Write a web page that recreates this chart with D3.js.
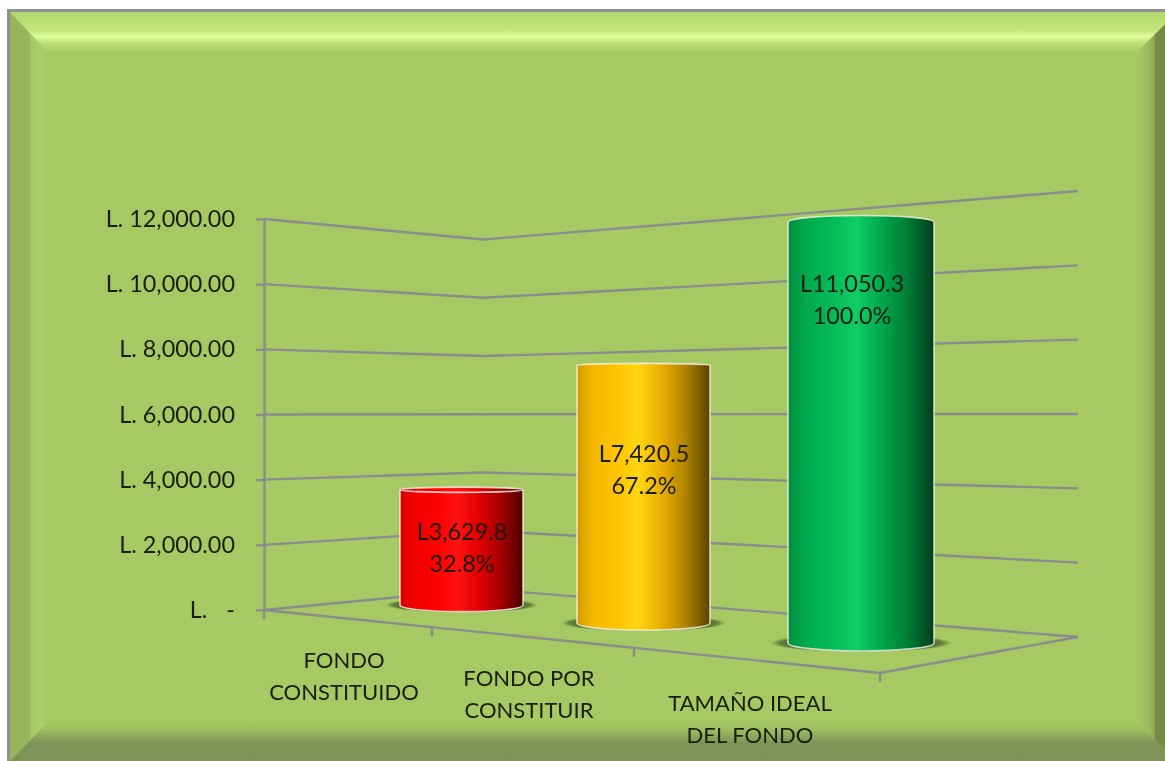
<!DOCTYPE html>
<html>
<head>
<meta charset="utf-8">
<script src="https://cdn.jsdelivr.net/npm/d3@7"></script>
<style>
  body { margin: 0; background: #fff; }
  svg { filter: blur(0.4px); }
  text { font-family: Lato, "Open Sans", sans-serif; fill: #1c1c14; }
</style>
</head>
<body>
<div id="chart"></div>
<script>
(function(){
  // data
  var categories = [["FONDO", "CONSTITUIDO"], ["FONDO POR", "CONSTITUIR"], ["TAMAÑO IDEAL", "DEL FONDO"]];
  var values = [3629.8, 7420.5, 11050.3];
  var valueLabels = ["L3,629.8", "L7,420.5", "L11,050.3"];
  var percentLabels = ["32.8%", "67.2%", "100.0%"];
  var yTicks = [0, 2000, 4000, 6000, 8000, 10000, 12000];
  var yTickLabels = ["L. -", "L. 2,000.00", "L. 4,000.00", "L. 6,000.00", "L. 8,000.00", "L. 10,000.00", "L. 12,000.00"];

  var width = 1165,
    height = 761;

  var svg = d3.select("#chart")
    .append("svg")
    .attr("width", width)
    .attr("height", height)
    .style("display", "block");

  var defs = svg.append("defs");

  function gradient(id, x1, y1, x2, y2, stops) {
    var g = defs.append("linearGradient")
      .attr("id", id)
      .attr("gradientUnits", "userSpaceOnUse")
      .attr("x1", x1).attr("y1", y1).attr("x2", x2).attr("y2", y2);
    stops.forEach(function(s){
      g.append("stop").attr("offset", s[0]).attr("stop-color", s[1]);
    });
  }

  // frame + bevels
  var L = 10, T = 12, R = 1165, B = 761;
  var iL = 48, iT = 52, iR = 1137, iB = 722;

  svg.append("rect").attr("x", 7).attr("y", 9).attr("width", width - 7).attr("height", height - 9).attr("fill", "#8f8f8f");
  svg.append("rect").attr("x", L).attr("y", T).attr("width", R - L).attr("height", B - T).attr("fill", "#a6c963");

  gradient("bevel-top", 0, T, 0, iT, [[0, "#b3d76e"], [0.45, "#c3e57c"], [0.62, "#dcfe96"], [0.8, "#bcdd76"], [1, "#a8cb64"]]);
  gradient("bevel-left", L, 0, iL, 0, [[0, "#96b45a"], [0.5, "#98b65b"], [0.56, "#a6cb66"], [0.8, "#accf69"], [1, "#a6c963"]]);
  gradient("bevel-bottom", 0, iB, 0, B, [[0, "#a6c963"], [0.2, "#9dbd5f"], [0.4, "#8ba25a"], [0.55, "#7e9357"], [1, "#7d9256"]]);
  gradient("bevel-right", iR, 0, R, 0, [[0, "#a6c963"], [0.45, "#9ab95c"], [0.62, "#8ba551"], [0.66, "#748a45"], [1, "#748a45"]]);

  var bevels = [
    ["bevel-left", [[L, T], [iL, iT], [iL, iB], [L, B]]],
    ["bevel-right", [[R, 24], [iR, iT], [iR, iB], [R, 750]]],
    ["bevel-top", [[L, T], [R, T], [R, 24], [iR, iT], [iL, iT]]],
    ["bevel-bottom", [[L, B], [iL, iB], [iR, iB], [R, 750], [R, B]]]
  ];
  svg.selectAll(".bevel")
    .data(bevels)
    .enter().append("polygon")
    .attr("class", "bevel")
    .attr("points", function(d){ return d[1].join(" "); })
    .attr("fill", function(d){ return "url(#" + d[0] + ")"; });

  // 3d box: one y scale per wall edge, all meet at the 6000 horizon
  var yLeft = d3.scaleLinear().domain([0, 12000]).range([610, 219]);
  var yCorner = d3.scaleLinear().domain([0, 12000]).range([589, 239.5]);
  var yRight = d3.scaleLinear().domain([0, 12000]).range([637, 191]);
  var xLeft = 264, xCorner = 483, xRight = 1078;
  var horizon = yLeft(6000);

  var gridColor = "#8c8b8e";
  var gridWidth = 2.4;
  var line = d3.line();

  svg.selectAll(".grid")
    .data(yTicks)
    .enter().append("path")
    .attr("class", "grid")
    .attr("fill", "none")
    .attr("stroke", gridColor)
    .attr("stroke-width", gridWidth)
    .attr("d", function(d){
      return line([[xLeft, yLeft(d)], [xCorner, yCorner(d)], [xRight, yRight(d)]]);
    });

  // floor front edge
  var xFront = 880, yFront = 673;
  var frontEdge = d3.scaleLinear().domain([xLeft, xFront]).range([yLeft(0), yFront]);
  svg.append("path")
    .attr("fill", "none")
    .attr("stroke", gridColor)
    .attr("stroke-width", gridWidth)
    .attr("d", line([[xLeft, yLeft(0)], [xFront, yFront], [xRight, yRight(0)]]));

  svg.selectAll(".xtick")
    .data([xLeft, 432, 634, xFront])
    .enter().append("line")
    .attr("class", "xtick")
    .attr("x1", function(d){ return d; })
    .attr("x2", function(d){ return d; })
    .attr("y1", function(d){ return frontEdge(d); })
    .attr("y2", function(d){ return frontEdge(d) + 9; })
    .attr("stroke", gridColor)
    .attr("stroke-width", gridWidth);

  // y axis
  var yAxis = d3.axisLeft(yLeft)
    .tickValues(yTicks)
    .tickSize(8)
    .tickSizeOuter(0)
    .tickPadding(21)
    .tickFormat(function(d, i){ return yTickLabels[i]; });

  var axisG = svg.append("g")
    .attr("transform", "translate(" + xLeft + ",0)")
    .call(yAxis);
  axisG.selectAll("path, line").attr("stroke", gridColor).attr("stroke-width", gridWidth);
  axisG.selectAll("text")
    .style("font-family", "Lato")
    .style("font-size", "23.4px")
    .style("word-spacing", function(d){ return d === 0 ? "13px" : null; })
    .attr("fill", "#1c1c14");

  // cylinders
  var centers = d3.scaleOrdinal().domain(d3.range(3)).range([461.5, 643.5, 861]);
  var radii = d3.scaleOrdinal().domain(d3.range(3)).range([61.5, 66.5, 73]);
  var bases = d3.scaleOrdinal().domain(d3.range(3)).range([605, 623, 643]);
  var capRatio = 0.035;

  var fills = [
    [[0, "#d80000"], [0.12, "#f20000"], [0.3, "#ff0000"], [0.47, "#ff1212"], [0.64, "#e00000"], [0.82, "#a60000"], [1, "#4c0000"]],
    [[0, "#d29c00"], [0.12, "#f5b800"], [0.3, "#ffc400"], [0.46, "#ffd612"], [0.64, "#e8ae00"], [0.82, "#ad8200"], [1, "#5a4200"]],
    [[0, "#008f3f"], [0.14, "#00ac4e"], [0.32, "#04bc59"], [0.47, "#12cd66"], [0.64, "#00a84c"], [0.82, "#007c36"], [1, "#003e1b"]]
  ];

  values.forEach(function(v, i){
    var cx = centers(i), rx = radii(i), yBase = bases(i);
    var yBar = d3.scaleLinear().domain([0, 6000]).range([yBase, horizon]);
    var yTop = yBar(v);
    var ryTop = Math.abs(yTop - horizon) * capRatio;
    var ryBase = (yBase - horizon) * capRatio;

    gradient("cyl-" + i, cx - rx, 0, cx + rx, 0, fills[i]);

    var shadow = defs.append("radialGradient").attr("id", "shadow-" + i);
    shadow.append("stop").attr("offset", 0.75).attr("stop-color", "#48602c");
    shadow.append("stop").attr("offset", 0.9).attr("stop-color", "#5d7836").attr("stop-opacity", 0.85);
    shadow.append("stop").attr("offset", 1).attr("stop-color", "#7a9a48").attr("stop-opacity", 0);

    svg.append("ellipse")
      .attr("cx", cx)
      .attr("cy", yBase)
      .attr("rx", rx * 1.25)
      .attr("ry", ryBase * 1.15)
      .attr("fill", "url(#shadow-" + i + ")");

    svg.append("path")
      .attr("d", "M" + (cx - rx) + "," + yTop
        + "A" + rx + "," + ryTop + " 0 0 1 " + (cx + rx) + "," + yTop
        + "L" + (cx + rx) + "," + yBase
        + "A" + rx + "," + ryBase + " 0 0 1 " + (cx - rx) + "," + yBase + "Z")
      .attr("fill", "url(#cyl-" + i + ")")
      .attr("stroke", "#f2f2e6")
      .attr("stroke-opacity", 0.8)
      .attr("stroke-width", 1.6);

    // only the red one sits below eye level so its lid shows
    if (yTop > horizon) {
      svg.append("path")
        .attr("d", "M" + (cx - rx) + "," + yTop + "A" + rx + "," + ryTop + " 0 0 0 " + (cx + rx) + "," + yTop)
        .attr("fill", "none")
        .attr("stroke", "#f6dcdc")
        .attr("stroke-opacity", 0.9)
        .attr("stroke-width", 1.6);
    }
  });

  // data labels sit a bit left of the bar centre on the green one
  var labelX = [462, 644, 852];
  var labelY = [540, 462, 292];
  var labels = svg.selectAll(".value-label")
    .data(values)
    .enter().append("text")
    .attr("class", "value-label")
    .attr("text-anchor", "middle")
    .style("font-size", "23.4px");
  labels.append("tspan")
    .attr("x", function(d, i){ return labelX[i]; })
    .attr("y", function(d, i){ return labelY[i]; })
    .text(function(d, i){ return valueLabels[i]; });
  labels.append("tspan")
    .attr("x", function(d, i){ return labelX[i]; })
    .attr("y", function(d, i){ return labelY[i] + 32; })
    .text(function(d, i){ return percentLabels[i]; });

  // category labels
  var catX = [344, 529, 750];
  var catY = [668, 686, 711];
  var cats = svg.selectAll(".cat-label")
    .data(categories)
    .enter().append("text")
    .attr("class", "cat-label")
    .attr("text-anchor", "middle")
    .style("font-size", "22px");
  cats.selectAll("tspan")
    .data(function(d, i){ return d.map(function(t, j){ return {t: t, x: catX[i], y: catY[i] + j * 32}; }); })
    .enter().append("tspan")
    .attr("x", function(d){ return d.x; })
    .attr("y", function(d){ return d.y; })
    .text(function(d){ return d.t; });

})();
</script>
</body>
</html>
